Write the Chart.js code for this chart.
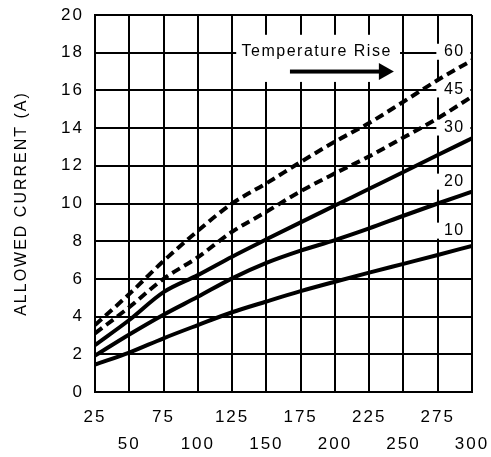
<!DOCTYPE html>
<html>
<head>
<meta charset="utf-8">
<script src="https://cdn.jsdelivr.net/npm/chart.js@4/dist/chart.umd.min.js"></script>
<style>
  html, body { margin: 0; padding: 0; background: #fff; }
  #wrap { width: 491px; height: 457px; }
</style>
</head>
<body>
<div id="wrap"><canvas id="currentChart" width="491" height="457"></canvas></div>
<script>
// Wire size (x) vs allowed current, one curve per temperature rise
const wireSize = [25, 50, 75, 100, 125, 150, 175, 200, 225, 250, 275, 300];
const rise10 = [1.45, 2.09, 2.85, 3.55, 4.23, 4.8, 5.35, 5.85, 6.33, 6.8, 7.27, 7.75];
const rise20 = [1.93, 3.05, 4.1, 5.05, 6.03, 6.85, 7.5, 8.06, 8.68, 9.35, 10.0, 10.63];
const rise30 = [2.49, 3.82, 5.3, 6.2, 7.18, 8.1, 9.0, 9.89, 10.78, 11.67, 12.57, 13.46];
const rise45 = [3.11, 4.5, 6.0, 7.15, 8.5, 9.56, 10.65, 11.6, 12.5, 13.5, 14.52, 15.67];
const rise60 = [3.55, 5.2, 6.95, 8.55, 10.0, 11.07, 12.2, 13.28, 14.27, 15.4, 16.55, 17.6];
const riseNames = ["10", "20", "30", "45", "60"];
const riseLabelY = [8.56, 11.16, 14.03, 16.05, 18.05];

const FONT = "'Liberation Sans', Arial, sans-serif";
const pts = arr => arr.map((v, i) => ({ x: wireSize[i], y: v }));
const line = (arr, dashed) => ({
    data: pts(arr), borderColor: "#000", borderWidth: 4, pointRadius: 0,
    borderDash: dashed ? [9, 5] : [], cubicInterpolationMode: "monotone", fill: false
});

// boxes + texts drawn over the grid, under the curves
const notes = {
    id: "notes",
    beforeDraw(chart) { chart.ctx.letterSpacing = "2px"; },
    beforeDatasetsDraw(chart) {
        const { ctx, scales: { x, y } } = chart;
        ctx.save();
        // Temperature Rise box
        const bx0 = x.getPixelForValue(128), bx1 = x.getPixelForValue(247.5);
        const by0 = y.getPixelForValue(18.95), by1 = y.getPixelForValue(16.45);
        ctx.fillStyle = "#fff";
        ctx.fillRect(bx0, by0, bx1 - bx0, by1 - by0);
        ctx.fillStyle = "#000";
        ctx.font = "16px " + FONT;
        ctx.letterSpacing = "1.5px";
        ctx.textAlign = "center";
        ctx.textBaseline = "middle";
        ctx.fillText("Temperature Rise", x.getPixelForValue(186.7), y.getPixelForValue(18.05));
        // arrow
        const ax0 = x.getPixelForValue(167.2), ax1 = x.getPixelForValue(243), ay = y.getPixelForValue(17.0);
        ctx.fillRect(ax0, ay - 2, ax1 - ax0 - 14, 4);
        ctx.beginPath();
        ctx.moveTo(ax1, ay);
        ctx.lineTo(ax1 - 15, ay - 8.5);
        ctx.lineTo(ax1 - 15, ay + 8.5);
        ctx.closePath();
        ctx.fill();
        // curve labels
        ctx.font = "16px " + FONT;
        const lx = x.getPixelForValue(286.4);
        riseNames.forEach((t, i) => {
            const ly = y.getPixelForValue(riseLabelY[i]);
            ctx.fillStyle = "#fff";
            ctx.fillRect(lx - 17, ly - 8, 34, 16);
            ctx.fillStyle = "#000";
            ctx.fillText(t, lx + 1, ly);
        });
        ctx.restore();
    }
};

new Chart(document.getElementById("currentChart").getContext("2d"), {
    type: "line",
    data: {
        datasets: [line(rise10), line(rise20), line(rise30), line(rise45, true), line(rise60, true)]
    },
    options: {
        responsive: false,
        animation: false,
        layout: { padding: { top: 15, right: 19, left: 0, bottom: 0 } },
        plugins: { legend: { display: false }, tooltip: { enabled: false } },
        scales: {
            x: {
                type: "linear", min: 25, max: 300,
                grid: { color: "#000", lineWidth: 2, drawTicks: false },
                border: { color: "#000", width: 2 },
                ticks: {
                    stepSize: 25, autoSkip: false, maxRotation: 0, padding: 12, color: "#000",
                    font: { size: 17, family: FONT, lineHeight: 1.6 },
                    callback: (v, i) => i % 2 === 0 ? [String(v), ""] : ["", String(v)]
                },
                afterFit: s => { s.height = 65; s.paddingLeft = 0; s.paddingRight = 0; }
            },
            y: {
                min: 0, max: 20,
                grid: { color: "#000", lineWidth: 2, drawTicks: false },
                border: { color: "#000", width: 2 },
                ticks: { stepSize: 2, padding: 11, color: "#000", font: { size: 17, family: FONT } },
                title: {
                    display: true, text: "ALLOWED CURRENT (A)", color: "#000",
                    font: { size: 16, family: FONT }, padding: { top: 12, bottom: 0 }
                },
                afterFit: s => { s.width = 95; s.paddingTop = 0; s.paddingBottom = 0; }
            }
        }
    },
    plugins: [notes]
});
</script>
</body>
</html>
